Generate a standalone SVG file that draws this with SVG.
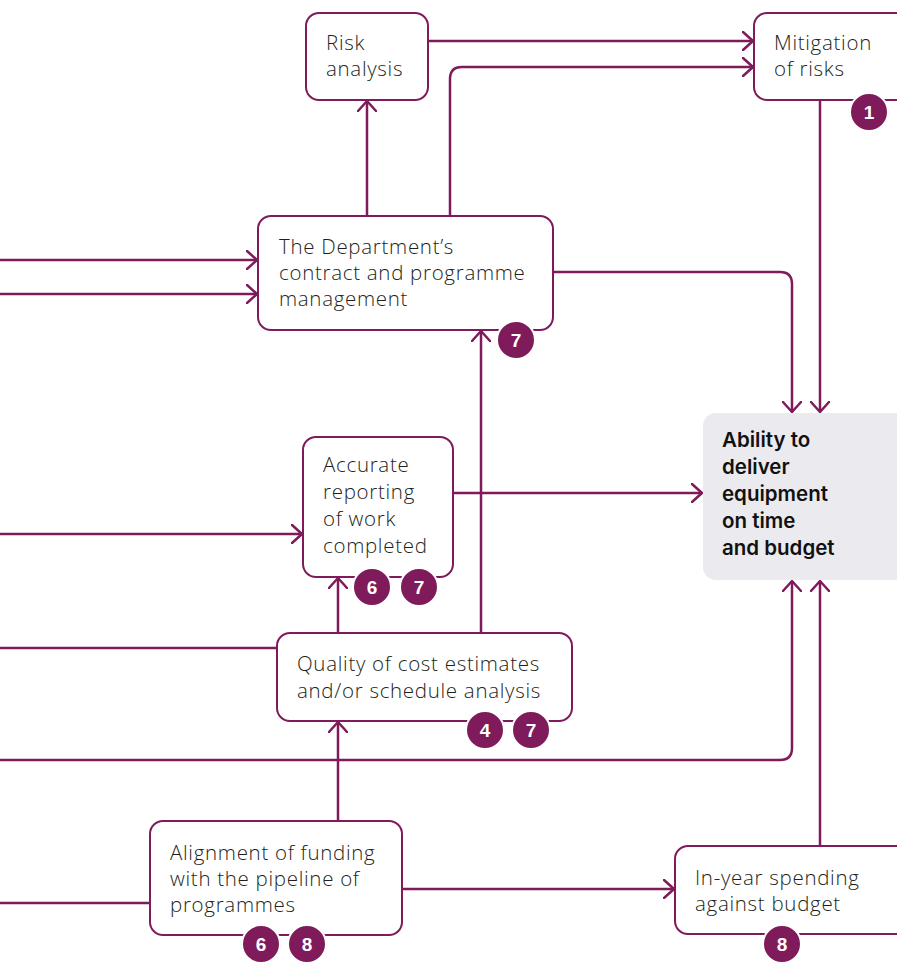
<svg xmlns="http://www.w3.org/2000/svg" width="897" height="963" viewBox="0 0 897 963">
  <defs>
    <marker id="arrow" viewBox="0 0 12 20" refX="11" refY="10" markerWidth="12" markerHeight="20" markerUnits="userSpaceOnUse" orient="auto">
      <path d="M1,1 L11,10 L1,19" fill="none" stroke="#7f1a5b" stroke-width="2.5" stroke-linecap="round" stroke-linejoin="round"/>
    </marker>
  </defs>
  <style>
    .box { fill: #ffffff; stroke: #7f1a5b; stroke-width: 2; }
    .goal { fill: #ebeaee; stroke: none; }
    .lbl { font-family: "Open Sans", "Liberation Sans", Arial, sans-serif; font-size: 20.5px; font-weight: 300; letter-spacing: 0.7px; fill: #231f20; }
    .bold { font-family: "Inter", "Liberation Sans", Arial, sans-serif; font-size: 20.5px; font-weight: 600; fill: #111111; }
    .wire { fill: none; stroke: #7f1a5b; stroke-width: 2.5; }
    .badge circle { fill: #7f1a5b; stroke: #ffffff; stroke-width: 2; }
    .badge text { font-family: "Liberation Sans", Arial, sans-serif; font-size: 19px; font-weight: bold; fill: #ffffff; text-anchor: middle; }
  </style>
  <rect width="897" height="963" fill="#ffffff"/>

  <g id="connectors">
    <path class="wire" d="M428,41 H753" marker-end="url(#arrow)"/>
    <path class="wire" d="M450,216 V79 Q450,67 462,67 H753" marker-end="url(#arrow)"/>
    <path class="wire" d="M367,216 V101" marker-end="url(#arrow)"/>
    <path class="wire" d="M0,260 H257" marker-end="url(#arrow)"/>
    <path class="wire" d="M0,294 H257" marker-end="url(#arrow)"/>
    <path class="wire" d="M553,272 H780 Q792,272 792,284 V412" marker-end="url(#arrow)"/>
    <path class="wire" d="M820,100 V412" marker-end="url(#arrow)"/>
    <path class="wire" d="M0,534 H302" marker-end="url(#arrow)"/>
    <path class="wire" d="M453,493 H702" marker-end="url(#arrow)"/>
    <path class="wire" d="M338,633 V578" marker-end="url(#arrow)"/>
    <path class="wire" d="M481,633 V331" marker-end="url(#arrow)"/>
    <path class="wire" d="M0,648 H277"/>
    <path class="wire" d="M0,760 H780 Q792,760 792,748 V581" marker-end="url(#arrow)"/>
    <path class="wire" d="M338,821 V722" marker-end="url(#arrow)"/>
    <path class="wire" d="M0,903 H150"/>
    <path class="wire" d="M402,889 H674" marker-end="url(#arrow)"/>
    <path class="wire" d="M820,846 V581" marker-end="url(#arrow)"/>
  </g>

  <g id="risk-analysis">
    <rect class="box" x="306" y="13" width="122" height="87" rx="13"/>
    <text class="lbl" x="326" y="50">Risk</text>
    <text class="lbl" x="326" y="76">analysis</text>
  </g>

  <g id="mitigation">
    <rect class="box" x="754" y="13" width="160" height="87" rx="13"/>
    <text class="lbl" x="774" y="50">Mitigation</text>
    <text class="lbl" x="774" y="76">of risks</text>
    <g class="badge"><circle cx="869" cy="112" r="19"/><text x="869" y="119">1</text></g>
  </g>

  <g id="department">
    <rect class="box" x="258" y="216" width="295" height="114" rx="13"/>
    <text class="lbl" x="279" y="254">The Department’s</text>
    <text class="lbl" x="279" y="280">contract and programme</text>
    <text class="lbl" x="279" y="306">management</text>
    <g class="badge"><circle cx="516" cy="340" r="19"/><text x="516" y="347">7</text></g>
  </g>

  <g id="ability">
    <rect class="goal" x="703" y="413" width="210" height="167" rx="13"/>
    <text class="bold" x="722" y="447">Ability to</text>
    <text class="bold" x="722" y="474">deliver</text>
    <text class="bold" x="722" y="501">equipment</text>
    <text class="bold" x="722" y="528">on time</text>
    <text class="bold" x="722" y="555">and budget</text>
  </g>

  <g id="accurate-reporting">
    <rect class="box" x="303" y="437" width="150" height="140" rx="13"/>
    <text class="lbl" x="323" y="472">Accurate</text>
    <text class="lbl" x="323" y="499">reporting</text>
    <text class="lbl" x="323" y="526">of work</text>
    <text class="lbl" x="323" y="553">completed</text>
    <g class="badge"><circle cx="372" cy="587" r="19"/><text x="372" y="594">6</text></g>
    <g class="badge"><circle cx="419" cy="587" r="19"/><text x="419" y="594">7</text></g>
  </g>

  <g id="cost-estimates">
    <rect class="box" x="277" y="633" width="295" height="88" rx="13"/>
    <text class="lbl" x="297" y="671">Quality of cost estimates</text>
    <text class="lbl" x="297" y="698">and/or schedule analysis</text>
    <g class="badge"><circle cx="485" cy="730" r="19"/><text x="485" y="737">4</text></g>
    <g class="badge"><circle cx="531" cy="730" r="19"/><text x="531" y="737">7</text></g>
  </g>

  <g id="funding-alignment">
    <rect class="box" x="150" y="821" width="252" height="114" rx="13"/>
    <text class="lbl" x="170" y="860">Alignment of funding</text>
    <text class="lbl" x="170" y="886">with the pipeline of</text>
    <text class="lbl" x="170" y="912">programmes</text>
    <g class="badge"><circle cx="261" cy="944" r="19"/><text x="261" y="951">6</text></g>
    <g class="badge"><circle cx="307" cy="944" r="19"/><text x="307" y="951">8</text></g>
  </g>

  <g id="in-year-spending">
    <rect class="box" x="675" y="846" width="240" height="88" rx="13"/>
    <text class="lbl" x="695" y="885">In-year spending</text>
    <text class="lbl" x="695" y="911">against budget</text>
    <g class="badge"><circle cx="782" cy="944" r="19"/><text x="782" y="951">8</text></g>
  </g>
</svg>
